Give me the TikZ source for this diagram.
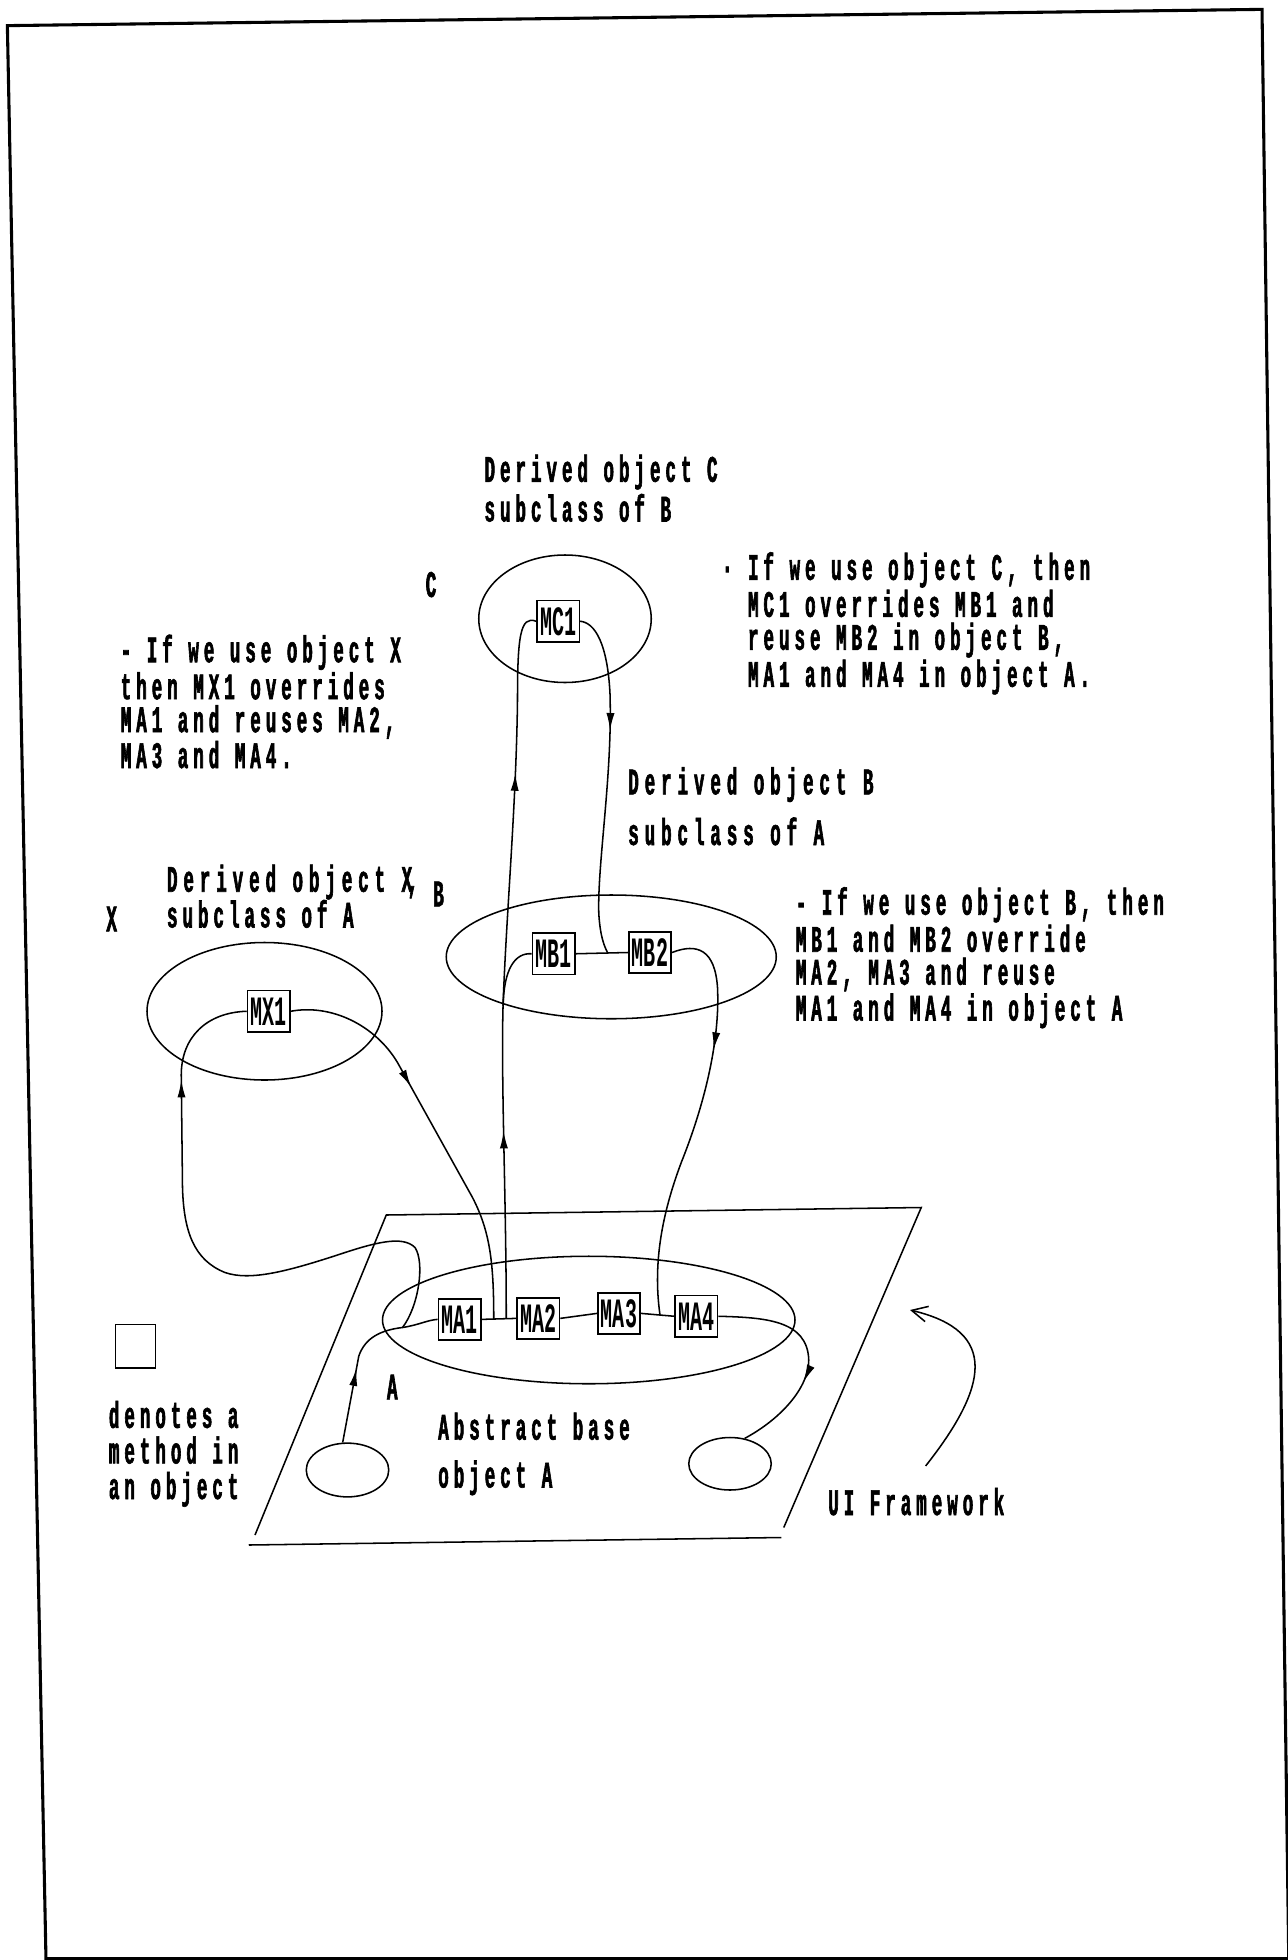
\documentclass[tikz,border=0pt]{standalone}
\usepackage{fontspec}
\usepackage{tikz}
\usetikzlibrary{arrows.meta,calc,decorations.markings,positioning,shapes.geometric}

\newfontfamily\notefont[FakeStretch=0.47,LetterSpace=13.3,FakeBold=1.6]{Liberation Mono}
\newfontfamily\widefont[FakeStretch=0.47,LetterSpace=15.8,FakeBold=1.6]{Liberation Mono}
\newfontfamily\methfont[FakeStretch=0.48]{Liberation Mono}
\def\unitpx{0.02cm}

\tikzset{
  note/.style={anchor=base west, inner sep=0pt, align=left,
    font=\notefont\bfseries\fontsize{17}{15}\selectfont},
  wide/.style={note, font=\widefont\bfseries\fontsize{17}{15}\selectfont},
  meth/.style={draw, minimum width=34*\unitpx, minimum height=33*\unitpx, inner sep=0pt,
    font=\methfont\bfseries\fontsize{19}{19}\selectfont},
  obj/.style={draw, ellipse, inner sep=0pt},
  mid/.style={postaction={decorate}, decoration={markings,
    mark=at position #1 with {\arrow{Latex[length=2.8mm,width=1.3mm]}}}},
  midtwo/.style 2 args={postaction={decorate}, decoration={markings,
    mark=at position #1 with {\arrow{Latex[length=2.8mm,width=1.3mm]}},
    mark=at position #2 with {\arrow{Latex[length=2.8mm,width=1.3mm]}}}}
}

\begin{document}
\begin{tikzpicture}[x=0.02cm, y=-0.02cm, line width=0.7pt]
  \useasboundingbox (0,0) rectangle (1030,1568);

  % Page frame
  \draw[line width=1.4pt] (36.8,1568) -- (5.9,20.5) -- (1009.6,7.5) -- (1031,1568);
  \draw[line width=1.4pt] (36.8,1566.5) -- (1030,1566.5);

  % Framework plane
  \draw (204,1228) -- (309,972) -- (737,966) -- (627,1222);
  \draw (199,1236) -- (625,1230);

  % Objects
  \node[obj, minimum width=138*\unitpx, minimum height=102*\unitpx] (eC) at (452,495) {};
  \node[obj, minimum width=264*\unitpx, minimum height=99*\unitpx] (eB) at (489,765.5) {};
  \node[obj, minimum width=188*\unitpx, minimum height=110*\unitpx] (eX) at (211.6,809) {};
  \node[obj, minimum width=330*\unitpx, minimum height=102*\unitpx] (eA) at (471,1056) {};
  \node[obj, minimum width=66*\unitpx, minimum height=43*\unitpx] (sL) at (278,1176) {};
  \node[obj, minimum width=66*\unitpx, minimum height=42*\unitpx] (sR) at (584,1171) {};

  % Methods
  \node[meth] (MC1) at (446.5,497) {MC1};
  \node[meth] (MB1) at (443,763) {MB1};
  \node[meth] (MB2) at (520,762) {MB2};
  \node[meth] (MX1) at (215,809) {MX1};
  \foreach \n/\x/\y in {1/367.7/1055.5, 2/430.6/1054.7, 3/495.2/1050.7, 4/557/1053}
    \node[meth] (MA\n) at (\x,\y) {MA\n};
  \foreach \a/\b in {1/2, 2/3, 3/4}
    \draw (MA\a.east) -- (MA\b.west);
  \draw (MB1.east) -- (MB2.west);
  \node[draw, minimum width=32*\unitpx, minimum height=35*\unitpx, inner sep=0pt] (key) at (108.5,1077) {};

  % Joints on the links
  \coordinate (jA) at (322,1062);
  \coordinate (jB) at (395,1055);
  \coordinate (jC) at (405,1055);
  \coordinate (jD) at (486,762);
  \coordinate (jE) at (528,1052);
  \coordinate (jF) at (402.5,805);
  \coordinate (uiT) at (728,1048);

  % Calls
  \draw[mid=0.42] (sL.100) -- (287,1085) .. controls (292,1070) and (305,1064) .. (jA)
    .. controls (335,1060) and (342,1056) .. (MA1.west);
  \draw[mid=0.62] (MA4.east) .. controls (612,1054) and (646,1056) .. (647,1088)
    .. controls (647,1110) and (625,1135) .. (sR.60);
  \draw[mid=0.82] (jA) .. controls (335,1045) and (340,1010) .. (332,998)
    .. controls (322,988) and (300,994) .. (270,1004)
    .. controls (230,1017) and (200,1025) .. (180,1018)
    .. controls (155,1008) and (147,985) .. (146,950) -- (145,860)
    .. controls (145,830) and (165,810) .. (MX1.west);
  \draw[mid=0.38] (MX1.east) .. controls (265,803) and (300,820) .. (318,850) -- (378,958)
    .. controls (392,985) and (395,1010) .. (jB);
  \draw[midtwo={0.265}{0.77}] (jC) .. controls (405,950) and (400,850) .. (403,790)
    .. controls (406,720) and (413,640) .. (414,560)
    .. controls (414,510) and (416,492) .. (MC1.west);
  \draw (MB1.west) .. controls (412,762) and (403,775) .. (jF);
  \draw[mid=0.35] (MC1.east) .. controls (476,498) and (486,515) .. (488,555)
    .. controls (490,620) and (478,690) .. (479,730)
    .. controls (480,750) and (484,758) .. (jD);
  \draw[mid=0.33] (MB2.east) .. controls (558,754) and (572,760) .. (574,790)
    .. controls (576,830) and (565,880) .. (545,930)
    .. controls (530,970) and (522,1010) .. (jE);

  % Labels (anchored at the baseline of the last line)
  \node[note] (lbC) at (387,417.2) {Derived object C\\[1pt]subclass of B};
  \node[note] (labC) at (340,477.5) {C};
  \node[note] (noteC) at (577,549.4) {· If we use object C, then\\\phantom{· }MC1 overrides MB1 and\\\phantom{· }reuse MB2 in object B,\\\phantom{· }MA1 and MA4 in object A.};
  \node[note] (noteX) at (96,614.4) {- If we use object X\\then MX1 overrides\\MA1 and reuses MA2,\\MA3 and MA4.};
  \node[wide] (lbB) at (502,676) {Derived object B\\[6pt]subclass of A};
  \node[note] (lbX) at (133,742) {{\widefont\bfseries\fontsize{17}{15}\selectfont Derived object X\kern-0.12em,}\\[-0.8pt]subclass of A};
  \node[note] (labB) at (346,725) {B};
  \node[note] (labX) at (84.5,745) {X};
  \node[note] (noteB) at (636,816.4) {- If we use object B, then\\MB1 and MB2 override\\MA2, MA3 and reuse\\MA1 and MA4 in object A};
  \node[note] (labA) at (309,1119.5) {A};
  \node[note] (lbA) at (350,1190) {Abstract base\\[6.8pt]object A};
  \node[note] (keytxt) at (86.5,1199.2) {denotes a\\[1.2pt]method in\\[1.2pt]an object};
  \node[note] (ui) at (662,1212) {UI Framework};
  \draw[-{Straight Barb[length=2.5mm,width=2.5mm]}] ([shift={(7.5,-17)}]ui.north)
    .. controls (790,1110) and (800,1065) .. (uiT);
\end{tikzpicture}
\end{document}
